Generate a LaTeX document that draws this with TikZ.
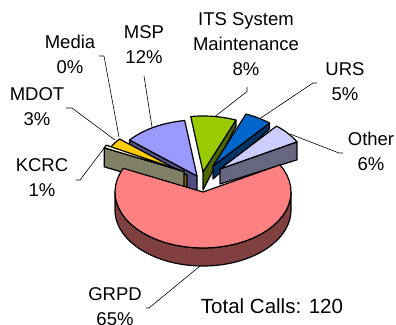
\documentclass[tikz,border=0pt]{standalone}
\usepackage{fontspec}
\setmainfont{Liberation Sans}
\definecolor{grpdT}{HTML}{FF8080}
\definecolor{grpdS}{HTML}{804040}
\definecolor{itsT}{HTML}{99CC00}
\definecolor{itsS}{HTML}{4D6600}
\definecolor{ursT}{HTML}{0066CC}
\definecolor{ursS}{HTML}{003366}
\definecolor{othT}{HTML}{CCCCFF}
\definecolor{othS}{HTML}{666680}
\definecolor{mspT}{HTML}{9999FF}
\definecolor{mspS}{HTML}{4D4D80}
\definecolor{mdotT}{HTML}{FFCC00}
\definecolor{mdotS}{HTML}{806600}
\definecolor{kcrcT}{HTML}{FFFFCC}
\definecolor{kcrcS}{HTML}{808066}
% top face of a slice: apex x, apex y, start angle, end angle, colour
\newcommand\pieTop[5]{\filldraw[pieline, fill=#5] (#1,#2) -- plot[domain=#3:#4, samples=40, variable=\t] ({#1+88*cos(\t)},{#2-56*sin(\t)}) -- cycle;}
% radial side face: apex x, apex y, angle, depth at apex, depth at rim, colour
\newcommand\pieFace[6]{\filldraw[pieline, fill=#6] (#1,#2) -- ({#1+88*cos(#3)},{#2-56*sin(#3)}) -- ({#1+88*cos(#3)},{#2-56*sin(#3)+#5}) -- (#1,{#2+#4}) -- cycle;}
\tikzset{
  pieline/.style={draw=black, line width=1.2pt, line join=round},
  leader/.style={draw=black, line width=0.6pt},
  lbl/.style={font=\fontsize{18.5}{25}\selectfont, align=center, anchor=north, inner sep=0pt},
}
\begin{document}
\begin{tikzpicture}[x=1pt, y=-1pt]
\useasboundingbox (0,0) rectangle (396,324);
% ITS System Maintenance
\pieFace{203}{172}{68}{18}{6}{itsS}
\pieTop{203}{172}{68}{98}{itsT}
% URS
\pieFace{213}{166}{50}{13}{6}{ursS}
\pieTop{213}{166}{50}{68}{ursT}
% Other
\pieFace{220}{169}{29}{15}{18}{othS}
\pieTop{220}{169}{29}{50}{othT}
% MSP
\pieFace{197}{176}{140}{18}{8}{mspS}
\pieTop{197}{176}{98}{140}{mspT}
% MDOT
\pieFace{187}{175}{152}{18}{18}{mdotS}
\pieTop{187}{175}{140}{152}{mdotT}
% KCRC
\pieFace{184}{171.5}{155}{19}{19}{kcrcS}
\pieTop{184}{171.5}{152}{155}{kcrcT}
% GRPD
\filldraw[pieline, fill=grpdS] plot[domain=-180:0, samples=60, variable=\t] ({203+88*cos(\t)},{192-56*sin(\t)}) -- plot[domain=0:-180, samples=60, variable=\t] ({203+88*cos(\t)},{210-56*sin(\t)}) -- cycle;
\pieTop{203}{192}{-205}{29}{grpdT}
% labels
\node[lbl] (media) at (70,35) {Media\\0\%};
\node[lbl] (msp) at (144,25) {MSP\\12\%};
\node[lbl] (its) at (246,12) {ITS System\\Maintenance\\8\%};
\node[lbl] (urs) at (345,62) {URS\\5\%};
\node[lbl] (other) at (371,132) {Other\\6\%};
\node[lbl] (mdot) at (37,87) {MDOT\\3\%};
\node[lbl] (kcrc) at (42,158) {KCRC\\1\%};
\node[lbl] (grpd) at (115,287) {GRPD\\65\%};
\node[font=\fontsize{20.5}{24}\selectfont, anchor=base, inner sep=0pt] (total) at (272,313) {Total Calls: 120};
% leader lines
\coordinate (mediaA) at (99,56); \coordinate (mediaB) at (104,56); \coordinate (mediaC) at (119,137);
\draw[leader] (mediaA) -- (mediaB) -- (mediaC);
\coordinate (mspA) at (144,76); \coordinate (mspC) at (152,127);
\draw[leader] (mspA) -- (mspC);
\coordinate (itsA) at (247,87); \coordinate (itsB) at (247,91.5); \coordinate (itsC) at (215,116.5);
\draw[leader] (itsA) -- (itsB) -- (itsC);
\coordinate (ursA) at (317,83); \coordinate (ursB) at (313,83); \coordinate (ursC) at (260,118.5);
\draw[leader] (ursA) -- (ursB) -- (ursC);
\coordinate (otherA) at (343,153); \coordinate (otherB) at (339,153); \coordinate (otherC) at (290,134);
\draw[leader] (otherA) -- (otherB) -- (otherC);
\coordinate (mdotA) at (66,108); \coordinate (mdotB) at (72,108); \coordinate (mdotC) at (115,140);
\draw[leader] (mdotA) -- (mdotB) -- (mdotC);
\coordinate (kcrcA) at (76,180); \coordinate (kcrcB) at (80,180); \coordinate (kcrcC) at (105,147);
\draw[leader] (kcrcA) -- (kcrcB) -- (kcrcC);
\coordinate (grpdA) at (146,308); \coordinate (grpdB) at (149,308); \coordinate (grpdC) at (200,266);
\draw[leader] (grpdA) -- (grpdB) -- (grpdC);
\end{tikzpicture}
\end{document}
